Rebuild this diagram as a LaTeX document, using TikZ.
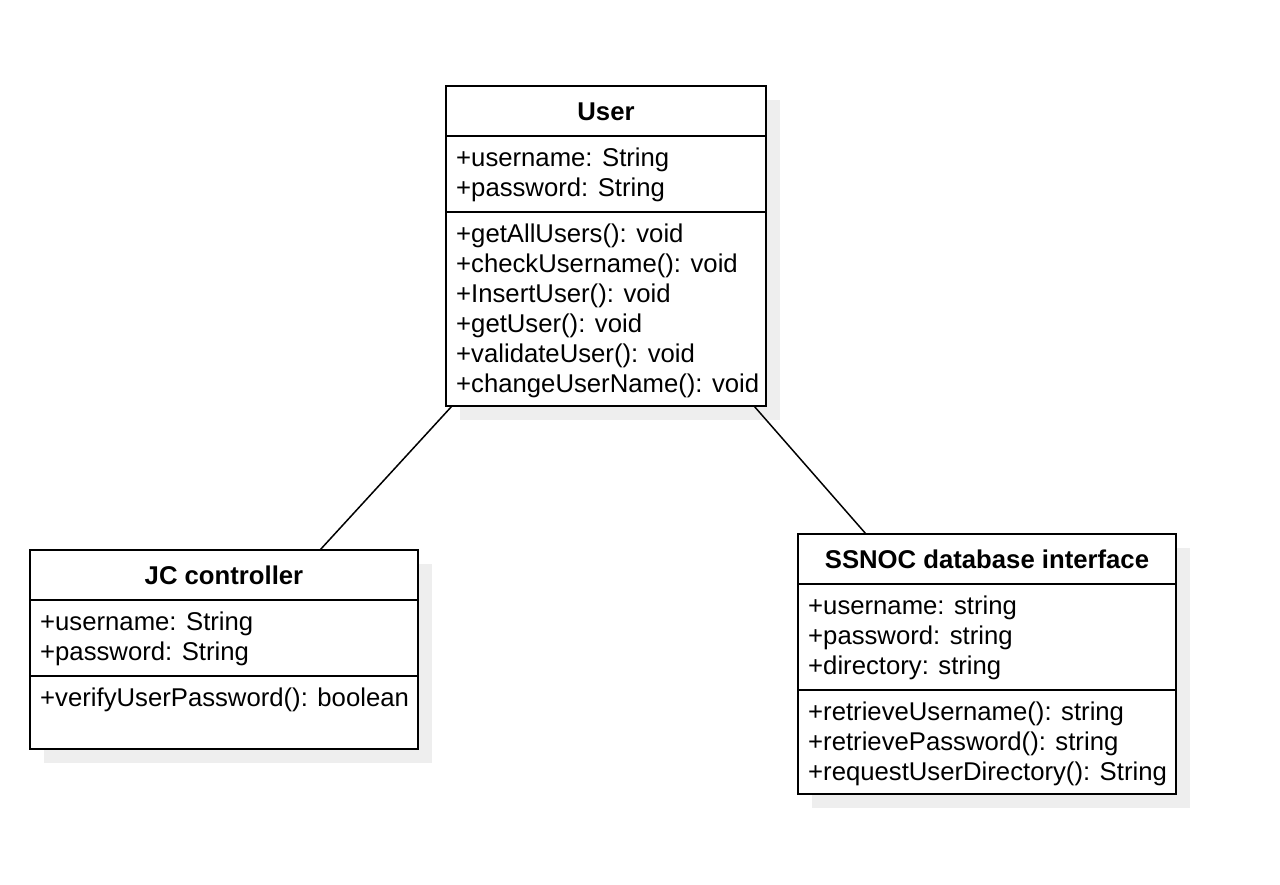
\documentclass[tikz,border=0pt]{standalone}
\usepackage{fontspec}
\setmainfont{Liberation Sans}
\usetikzlibrary{calc,shadows}
\definecolor{shadowc}{RGB}{238,238,238}
\tikzset{
  classbox/.style={draw=black, line width=2pt, fill=white, rectangle, inner sep=0pt, outer sep=0pt, anchor=north west,
    drop shadow={shadow xshift=14pt, shadow yshift=-14pt, fill=shadowc, opacity=1}},
  sepline/.style={draw=black, line width=2pt},
  txt/.style={anchor=base west, inner sep=0pt, font=\fontsize{25.7}{30}\selectfont},
  ttl/.style={anchor=base, inner sep=0pt, font=\fontsize{25.7}{30}\selectfont\bfseries},
  assoc/.style={draw=black, line width=1.5pt}
}
\begin{document}
\begin{tikzpicture}[x=1pt, y=-1pt]
\useasboundingbox[fill=white] (0,0) rectangle (1280,884);

% User
\node[classbox, minimum width=320pt, minimum height=320pt] (user) at (446,86) {};
\draw[sepline] ($(user.north west)+(0,50)$) -- ($(user.north east)+(0,50)$);
\draw[sepline] ($(user.north west)+(0,126)$) -- ($(user.north east)+(0,126)$);
\node[ttl] (usert) at (606,120) {User};
\foreach \t [count=\i] in {+username: String, +password: String}
  \node[txt] (ua\i) at (456,{166+30*(\i-1)}) {\t};
\foreach \t [count=\i] in {+getAllUsers(): void, +checkUsername(): void, +InsertUser(): void, +getUser(): void, +validateUser(): void, +changeUserName(): void}
  \node[txt] (um\i) at (456,{242+30*(\i-1)}) {\t};

% JC controller
\node[classbox, minimum width=388pt, minimum height=199pt] (jc) at (30,550) {};
\draw[sepline] ($(jc.north west)+(0,50)$) -- ($(jc.north east)+(0,50)$);
\draw[sepline] ($(jc.north west)+(0,126)$) -- ($(jc.north east)+(0,126)$);
\node[ttl] (jct) at (224,584) {JC controller};
\foreach \t [count=\i] in {+username: String, +password: String}
  \node[txt] (ja\i) at (40,{630+30*(\i-1)}) {\t};
\node[txt] (jm1) at (40,706) {+verifyUserPassword(): boolean};

% SSNOC database interface
\node[classbox, minimum width=378pt, minimum height=260pt] (ss) at (798,534) {};
\draw[sepline] ($(ss.north west)+(0,50)$) -- ($(ss.north east)+(0,50)$);
\draw[sepline] ($(ss.north west)+(0,156)$) -- ($(ss.north east)+(0,156)$);
\node[ttl] (sst) at (987,568) {SSNOC database interface};
\foreach \t [count=\i] in {+username: string, +password: string, +directory: string}
  \node[txt] (sa\i) at (808,{614+30*(\i-1)}) {\t};
\foreach \t [count=\i] in {+retrieveUsername(): string, +retrievePassword(): string, +requestUserDirectory(): String}
  \node[txt] (sm\i) at (808,{720+30*(\i-1)}) {\t};

% associations
\draw[assoc] ($(user.south west)+(6,0)$) -- ($(jc.north west)+(290,0)$);
\draw[assoc] ($(user.south east)+(-12,0)$) -- ($(ss.north west)+(68,0)$);
\end{tikzpicture}
\end{document}
